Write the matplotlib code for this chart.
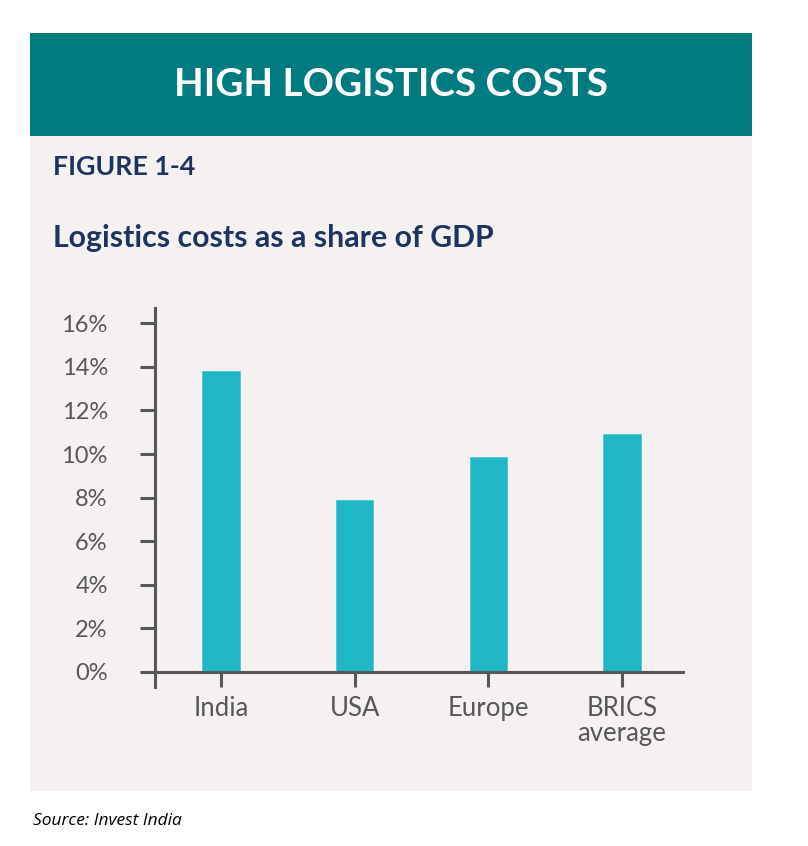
import matplotlib
matplotlib.use("Agg")
import matplotlib.pyplot as plt
from matplotlib.patches import Rectangle

categories = ["India", "USA", "Europe", "BRICS\naverage"]
values = [13.8, 7.9, 9.85, 10.9]
yticks = [0, 2, 4, 6, 8, 10, 12, 14, 16]
ytick_labels = [f"{v}%" for v in yticks]

W, H = 808, 846
fig = plt.figure(figsize=(W / 100, H / 100), dpi=100)
fig.patch.set_facecolor("white")

def fx(px):
    return px / W

def fy(py):
    return 1 - py / H

teal = "#007b80"
panel = "#f5f1f0"
navy = "#1d3461"
gray = "#575757"
bar_color = "#21b6c5"

# panel and header
fig.patches.append(Rectangle((fx(30), fy(791)), fx(752) - fx(30), fy(136) - fy(791),
                             transform=fig.transFigure, facecolor=panel, edgecolor="none", zorder=-5))
fig.patches.append(Rectangle((fx(30), fy(136)), fx(752) - fx(30), fy(33) - fy(136),
                             transform=fig.transFigure, facecolor=teal, edgecolor="none", zorder=-5))

fig.text(fx(391), fy(84), "HIGH LOGISTICS COSTS", ha="center", va="center",
         fontsize=27.8, fontweight="bold", color="white", family="Lato")
fig.text(fx(53), fy(175), "FIGURE 1-4", ha="left", va="baseline",
         fontsize=19.3, fontweight="bold", color=navy, family="Lato")
fig.text(fx(53), fy(247), "Logistics costs as a share of GDP", ha="left", va="baseline",
         fontsize=21.8, fontweight="bold", color=navy, family="Lato")
fig.text(fx(33), fy(825), "Source: Invest India", ha="left", va="baseline",
         fontsize=12.5, style="italic", color="black", family="Open Sans")

# axes
ax = fig.add_axes([fx(155), fy(687), fx(683) - fx(155), fy(308) - fy(687)])
ax.set_zorder(1)
ax.set_facecolor("none")
x = list(range(len(categories)))
ax.bar(x, values, width=0.28, color=bar_color, edgecolor="#4cc6d2", linewidth=0.6, zorder=2)

ax.set_xlim(-0.494, 3.456)
ax.set_ylim(-0.69, 16.7)
ax.set_yticks(yticks)
ax.set_yticklabels(ytick_labels)
ax.set_xticks(x)
ax.set_xticklabels(categories)

for s in ["top", "right"]:
    ax.spines[s].set_visible(False)
ax.spines["bottom"].set_position(("data", 0))
for s in ["left", "bottom"]:
    ax.spines[s].set_color(gray)
    ax.spines[s].set_linewidth(2.2)
    ax.spines[s].set_zorder(3)

ax.tick_params(axis="y", direction="out", length=11, width=2.2, color=gray, pad=23,
               labelsize=17, labelcolor=gray)
ax.tick_params(axis="x", direction="out", length=11, width=2.2, color=gray, pad=6,
               labelsize=18.5, labelcolor=gray)
for lab in ax.get_xticklabels() + ax.get_yticklabels():
    lab.set_family("Lato")
for lab in ax.get_xticklabels():
    lab.set_linespacing(1.0)

fig.savefig("out.png", dpi=100, facecolor="white")
